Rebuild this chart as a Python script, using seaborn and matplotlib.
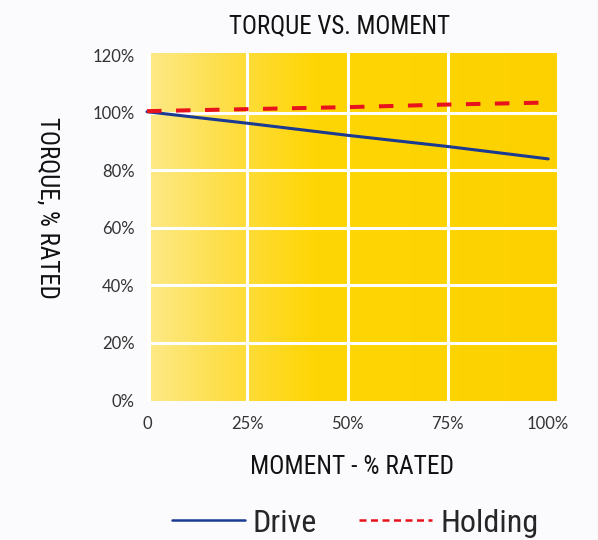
import matplotlib
matplotlib.use("Agg")
import matplotlib.pyplot as plt
from matplotlib import font_manager
from matplotlib.lines import Line2D
from matplotlib.colors import LinearSegmentedColormap
import numpy as np
import pandas as pd
import seaborn as sns

# ---- data ----
moment = [0, 25, 50, 75, 100]
drive = [100.4, 96.4, 92.2, 88.3, 84.0]
holding = [100.6, 101.3, 102.0, 102.9, 103.6]
x_ticks = [0, 25, 50, 75, 100]
x_tick_labels = ["0", "25%", "50%", "75%", "100%"]
y_ticks = [0, 20, 40, 60, 80, 100, 120]
y_tick_labels = ["0%", "20%", "40%", "60%", "80%", "100%", "120%"]
series_names = ["Drive", "Holding"]
title = "TORQUE VS. MOMENT"
xlabel = "MOMENT - % RATED"
ylabel = "TORQUE, % RATED"

sns.set_style("white")
ttf = font_manager.fontManager.ttflist
names = {f.name for f in ttf}
narrow = None
stretch = "normal"
for cand in ["Liberation Sans Narrow", "Arial Narrow", "Roboto Condensed", "Open Sans Condensed"]:
    if cand in names:
        narrow = cand
        break
if narrow is None:
    for f in ttf:
        if f.name == "Open Sans" and str(f.stretch) in ("condensed", "semi-condensed", "75", "87"):
            narrow = "Open Sans"
            stretch = "condensed"
            break
scale = 1.0
if narrow is None:
    narrow = "Liberation Sans"
    scale = 0.88
tickfont = "Lato" if "Lato" in names else "DejaVu Sans"
plt.rcParams["font.family"] = [narrow, "DejaVu Sans"]
plt.rcParams["font.stretch"] = stretch

df = pd.DataFrame({
    "moment": moment * 2,
    "torque": drive + holding,
    "series": [series_names[0]] * len(moment) + [series_names[1]] * len(moment),
})

fig = plt.figure(figsize=(5.98, 5.40), dpi=100, facecolor="#fbfbfd")
ax = fig.add_axes([147 / 598, 1 - 401 / 540, (557 - 147) / 598, (401 - 52.5) / 540])
xlim = (1.0, 102.2)
ylim = (-0.2, 121)

# gradient background
cmap = LinearSegmentedColormap.from_list(
    "bg", [(0.0, "#FDE985"), (0.18, "#FEDE48"), (0.40, "#FFD605"), (1.0, "#FDD100")])
grad = np.linspace(0, 1, 256).reshape(1, -1)
ax.imshow(grad, cmap=cmap, aspect="auto", extent=(xlim[0], xlim[1], ylim[0], ylim[1]),
          zorder=0, interpolation="bilinear")

for v in x_ticks[1:-1]:
    ax.axvline(v, color="white", lw=3.0, zorder=1)
for v in y_ticks[1:-1]:
    ax.axhline(v, color="white", lw=3.0, zorder=1)

palette = {"Drive": "#1B3A92", "Holding": "#E8121C"}
sns.lineplot(data=df, x="moment", y="torque", hue="series", style="series",
             palette=palette, dashes={"Drive": "", "Holding": (3.6, 3.6)},
             ax=ax, legend=False, zorder=3)
for ln in ax.get_lines():
    ln.set_clip_on(False)
    if ln.get_linestyle() == "-":
        ln.set_linewidth(2.2)
    else:
        ln.set_linewidth(2.9)

ax.set_xlim(*xlim)
ax.set_ylim(*ylim)
ax.set_xticks(x_ticks)
ax.set_xticklabels(x_tick_labels, fontfamily=tickfont, fontsize=12, color="#333333")
ax.set_yticks(y_ticks)
ax.set_yticklabels(y_tick_labels, fontfamily=tickfont, fontsize=12, color="#333333")
ax.tick_params(axis="both", length=0)
ax.tick_params(axis="x", pad=11)
ax.tick_params(axis="y", pad=9)
for s in ax.spines.values():
    s.set_visible(False)
ax.set_xlabel("")
ax.set_ylabel("")

fig.text(340 / 598, 1 - 26 / 540, title, ha="center", va="center",
         fontsize=18 * scale, color="#111111")
fig.text(352 / 598, 1 - 467 / 540, xlabel, ha="center", va="center",
         fontsize=18.3 * scale, color="#111111")
fig.text(47 / 598, 1 - 208 / 540, ylabel, ha="center", va="center", rotation=270,
         fontsize=18 * scale, color="#111111")

handles = [
    Line2D([], [], color=palette["Drive"], lw=1.8),
    Line2D([], [], color=palette["Holding"], lw=1.8, dashes=(2.8, 1.8)),
]
fig.legend(handles, series_names, loc="center", bbox_to_anchor=(355 / 598, 1 - 523 / 540),
           ncol=2, frameon=False, fontsize=23 * scale, handlelength=2.3, handletextpad=0.25,
           columnspacing=1.3, borderaxespad=0)

fig.savefig("out.png", dpi=100, facecolor=fig.get_facecolor())
